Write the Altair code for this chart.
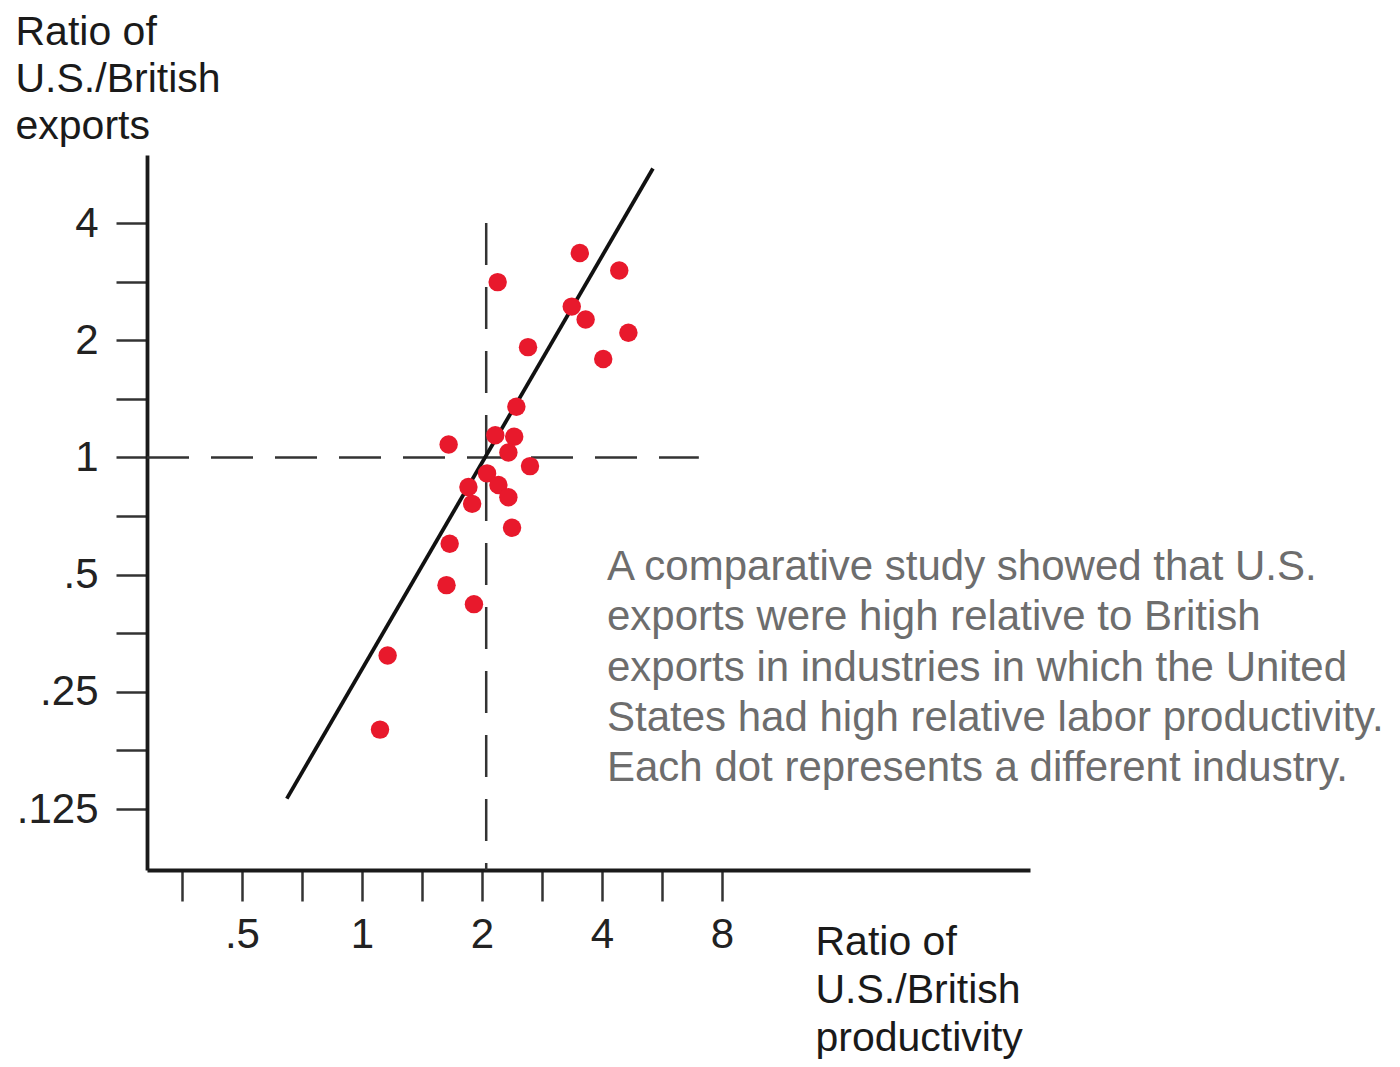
import math
import altair as alt
import pandas as pd

# ---- data (ratios, log2 axes) ----
prod_ratio = [3.52, 4.42, 2.19, 3.36, 3.64, 4.66, 2.61, 4.03, 2.44, 1.65, 2.16, 2.41, 2.33,
              2.64, 2.06, 1.85, 2.20, 2.33, 1.89, 2.38, 1.66, 1.63, 1.91, 1.16, 1.11]
export_ratio = [3.35, 3.02, 2.82, 2.44, 2.26, 2.09, 1.92, 1.79, 1.35, 1.08, 1.14, 1.13, 1.03,
                0.95, 0.91, 0.84, 0.85, 0.79, 0.76, 0.66, 0.60, 0.47, 0.42, 0.31, 0.20]

fit_x = [0.648, 5.37]
fit_y = [0.133, 5.52]

x_major = [0.5, 1, 2, 4, 8]
x_major_labels = [".5", "1", "2", "4", "8"]
y_major = [0.125, 0.25, 0.5, 1, 2, 4]
y_major_labels = [".125", ".25", ".5", "1", "2", "4"]

x_domain = [0.289, 47.4]
y_domain = [0.0872, 5.98]

ref_x = 2.05          # vertical dashed line
ref_y_top = 4
ref_y = 1.0           # horizontal dashed line
ref_x_right = 7.0

note_lines = [
    "A comparative study showed that U.S.",
    "exports were high relative to British",
    "exports in industries in which the United",
    "States had high relative labor productivity.",
    "Each dot represents a different industry.",
]
x_title = ["Ratio of", "U.S./British", "productivity"]
y_title = ["Ratio of", "U.S./British", "exports"]

FONT = "Liberation Sans"

x_ticks = sorted(x_major + [m / math.sqrt(2) for m in x_major])
y_ticks = sorted(y_major + [m * math.sqrt(2) for m in y_major[:-1]])


def label_expr(values, labels):
    parts = [f"datum.value == {v} ? '{l}'" for v, l in zip(values, labels)]
    return " : ".join(parts) + " : ''"


xscale = alt.Scale(type="log", base=2, domain=x_domain, nice=False, zero=False)
yscale = alt.Scale(type="log", base=2, domain=y_domain, nice=False, zero=False)

common_axis = dict(
    grid=False, domainColor="#1a1a1a", domainWidth=3.8, tickColor="#333333",
    tickWidth=2.5, tickSize=31, labelFont=FONT, labelFontSize=42, labelColor="#222222",
    titleFont=FONT, titleFontSize=41, titleColor="#1a1a1a", titleFontWeight="normal",
    labelOverlap=False, labelFlush=False,
)

x_axis = alt.Axis(
    values=x_ticks, labelExpr=label_expr(x_major, x_major_labels), title=x_title,
    labelPadding=13, titleAngle=0, titleAlign="left", titleBaseline="alphabetic",
    titleX=668, titleY=84, titleLineHeight=48, **common_axis,
)
y_axis = alt.Axis(
    values=y_ticks, labelExpr=label_expr(y_major, y_major_labels), title=y_title,
    labelPadding=18, titleAngle=0, titleAlign="left", titleBaseline="alphabetic",
    titleX=-132, titleY=-111, titleLineHeight=47, **common_axis,
)

points_df = pd.DataFrame({"x": prod_ratio, "y": export_ratio})
fit_df = pd.DataFrame({"x": fit_x, "y": fit_y})
vref_df = pd.DataFrame({"x": [ref_x], "y": [ref_y_top], "y2": [y_domain[0]]})
href_df = pd.DataFrame({"x": [x_domain[0]], "x2": [ref_x_right], "y": [ref_y]})
note_df = pd.DataFrame({"k": [0]})

vline = alt.Chart(vref_df).mark_rule(strokeDash=[42, 22], strokeWidth=2.5, color="#333333").encode(
    x=alt.X("x:Q", scale=xscale, axis=x_axis),
    y=alt.Y("y:Q", scale=yscale, axis=y_axis),
    y2="y2:Q",
)
hline = alt.Chart(href_df).mark_rule(strokeDash=[42, 22], strokeWidth=2.5, color="#333333").encode(
    x=alt.X("x:Q", scale=xscale),
    x2="x2:Q",
    y=alt.Y("y:Q", scale=yscale),
)
fit = alt.Chart(fit_df).mark_line(color="#111111", strokeWidth=3.8).encode(
    x=alt.X("x:Q", scale=xscale),
    y=alt.Y("y:Q", scale=yscale),
)
dots = alt.Chart(points_df).mark_circle(size=340, color="#E8192C", opacity=1).encode(
    x=alt.X("x:Q", scale=xscale),
    y=alt.Y("y:Q", scale=yscale),
)
note = alt.Chart(note_df).mark_text(
    text=note_lines, align="left", baseline="alphabetic", font=FONT, fontSize=42,
    lineHeight=50.3, color="#6d6d6d",
).encode(x=alt.value(460), y=alt.value(425))

chart = (
    alt.layer(vline, hline, fit, dots, note)
    .properties(
        width=883, height=715, autosize="none",
        padding={"left": 139, "top": 147, "right": 362, "bottom": 189},
    )
    .configure(background="white")
    .configure_view(stroke=None)
)

chart.save("out.html", embed_options={"renderer": "svg", "actions": False})
